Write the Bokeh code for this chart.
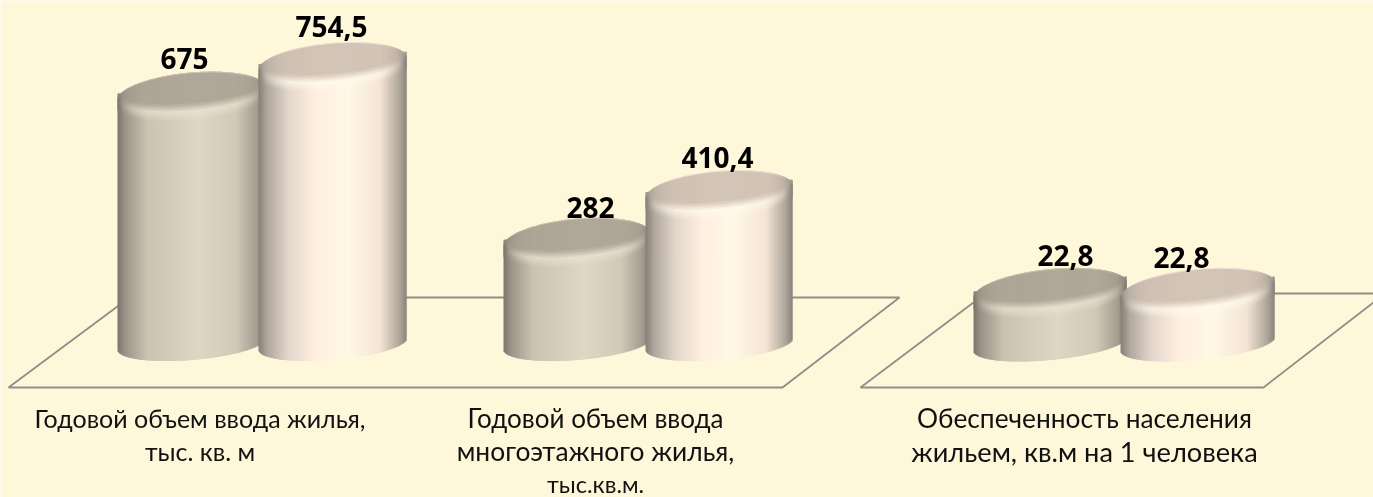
from bokeh.plotting import figure
from bokeh.models import Range1d, ColumnDataSource
from bokeh.core.properties import value
from bokeh.embed import file_html
from bokeh.resources import INLINE
import math

W, H = 1373, 497
BG = "#FFF7D9"
FONT = "Lato"
VALUE_FONT = "Open Sans"

categories = ["Годовой объем ввода жилья,\nтыс. кв. м",
              "Годовой объем ввода\nмногоэтажного жилья,\nтыс.кв.м.",
              "Обеспеченность населения\nжильем, кв.м на 1 человека"]
series_a = [675, 282, 22.8]
series_b = [754.5, 410.4, 22.8]
labels_a = ["675", "282", "22,8"]
labels_b = ["754,5", "410,4", "22,8"]

# layout (pixels)
BASE_PX = 345.0
SCALE_MAIN = 0.372
SCALE_THIRD = 2.39
bar_left = [[117, 258], [503, 645], [973, 1120]]
bar_width = [[148, 148], [147, 147], [153, 154]]
label_xy_a = [(184, 58), (590, 207), (1065, 255)]
label_xy_b = [(331, 26), (717, 157), (1181, 257)]
cat_x = [199.5, 595, 1084]
cat_sizes = [["25px", "25px"], ["26px", "26.4px", "23.5px"], ["26.3px", "27.2px"]]
cat_y0 = 417.5
cat_step = 33.2

def yrange(k):
    return Range1d(-(H - BASE_PX) / k, BASE_PX / k)

p = figure(width=W, height=H, x_range=Range1d(0, W), y_range=yrange(SCALE_MAIN),
           output_backend="svg", toolbar_location=None, min_border=0,
           background_fill_color=BG, border_fill_color=BG, outline_line_color=None)
p.extra_y_ranges = {"third": yrange(SCALE_THIRD), "px": Range1d(H, 0)}
p.axis.visible = False
p.grid.visible = False
p.styles = {"position": "fixed", "left": "0", "top": "0"}

# floors
FLOOR = "#8F8F8A"
floors = [([8, 782, 899, 129, 8], [387, 387, 297, 297, 387]),
          ([860, 1263, 1373], [387, 387, 302]),
          ([860, 973], [387, 302]),
          ([1270, 1373], [293, 293])]
for fx, fy in floors:
    p.line(fx, fy, y_range_name="px", line_color=FLOOR, line_width=1.8, level="underlay")

def lerp(c1, c2, t):
    return tuple(a + (b - a) * t for a, b in zip(c1, c2))

def hexc(c):
    return "#%02X%02X%02X" % tuple(int(round(max(0, min(255, v)))) for v in c)

def ramp(stops, t):
    for (t0, c0), (t1, c1) in zip(stops, stops[1:]):
        if t <= t1:
            return lerp(c0, c1, (t - t0) / (t1 - t0) if t1 > t0 else 0)
    return stops[-1][1]

BODY_A = [(0, (122, 116, 106)), (.05, (154, 147, 136)), (.20, (204, 194, 176)), (.55, (224, 214, 197)),
          (.80, (210, 200, 182)), (.94, (165, 157, 145)), (1, (130, 124, 114))]
BODY_B = [(0, (134, 127, 119)), (.06, (176, 167, 157)), (.20, (226, 214, 202)), (.38, (255, 238, 224)),
          (.60, (255, 248, 230)), (.82, (244, 228, 212)), (.95, (176, 167, 156)), (1, (140, 132, 124))]
FACE_A = (157, 150, 135)
FACE_B = (194, 178, 163)
HI_A = (234, 226, 210)
HI_B = (255, 250, 238)
RIM_A = (190, 182, 168)
RIM_B = (224, 212, 200)

S = 6.0      # tilt of the ellipses, px
HH_TOP = 22.0
HH_BOTTOM = 16.0

def draw_bar(left, width, val, k, yname, body, face, hi, rim):
    cx = left + width / 2
    hw = width / 2
    cy = BASE_PX - val * k
    cyb = BASE_PX - 1.5
    s = S * (1.2 if yname else 1)
    rows = dict(l=[], r=[], t=[], b=[], c=[])
    def add(x, ytop, ybot, col):
        rows["l"].append(x)
        rows["r"].append(x + (2 if x < left + width - 1 else 1))
        rows["t"].append((BASE_PX - ytop) / k)
        rows["b"].append((BASE_PX - ybot) / k)
        rows["c"].append(col)
    for x in range(left, left + width):
        t = (x + .5 - cx) / hw
        root = math.sqrt(max(0, 1 - t * t))
        base = ramp(body, (t + 1) / 2)
        edge = abs(t) ** 5
        sil = cy - s * t - HH_TOP * root
        low = cyb - s * t + HH_BOTTOM * root
        add(x, sil, low, hexc(base))
        # bevel, painted from the body upward to the face
        band = cy + 7 - s * t + 20 * root
        tf = t * 1.04
        rf = math.sqrt(max(0, 1 - tf * tf))
        face_low = cy - 7 - s * tf + 16 * rf
        face_top = cy - 7 - s * tf - 15 * rf
        bright = lerp(hi, base, min(1, edge + .12 * abs(t)))
        hi_y = face_low + (band - face_low) * 0.38
        n = 10
        for i in range(n):
            f = i / n
            y = band - (band - hi_y) * f
            add(x, y, band + 1 if i == 0 else y + 1.2, hexc(lerp(base, bright, f * f * (3 - 2 * f))))
        add(x, hi_y, hi_y + 1.2, hexc(bright))
        rc = lerp(rim, base, .25 + .75 * edge)
        m = 5
        fc = lerp(lerp(face, rim, .35), base, edge * .7)
        for i in range(m):
            f = (i + 1) / m
            y = hi_y - (hi_y - face_low) * f
            add(x, y, y + 1.5, hexc(lerp(bright, fc, f)))
        add(x, sil, max(face_low, sil), hexc(rc))
        if rf > 0:
            add(x, max(face_top, sil + 1), face_low, hexc(lerp(face, base, edge * .6)))
    kw = {"y_range_name": yname} if yname else {}
    p.quad(left="l", right="r", top="t", bottom="b", fill_color="c", fill_alpha=1.0, line_color=None,
           source=ColumnDataSource(rows), **kw)

for g in range(3):
    k = SCALE_THIRD if g == 2 else SCALE_MAIN
    yn = "third" if g == 2 else None
    draw_bar(bar_left[g][0], bar_width[g][0], series_a[g], k, yn, BODY_A, FACE_A, HI_A, RIM_A)
    draw_bar(bar_left[g][1], bar_width[g][1], series_b[g], k, yn, BODY_B, FACE_B, HI_B, RIM_B)

# value labels
vx = [q[0] for q in label_xy_a + label_xy_b]
vy = [q[1] for q in label_xy_a + label_xy_b]
p.text(vx, vy, text=labels_a + labels_b, y_range_name="px", text_font=value(VALUE_FONT),
       text_font_style="bold", text_font_size="28px", text_color="#000000",
       text_align="center", text_baseline="middle")

# category labels
for x0, cat, sizes in zip(cat_x, categories, cat_sizes):
    for i, (line, size) in enumerate(zip(cat.split("\n"), sizes)):
        p.text([x0], [cat_y0 + i * cat_step], text=[line], y_range_name="px", text_font=value(FONT),
               text_font_size=size, text_color="#111111", text_align="center", text_baseline="middle")

open("out.html", "w").write(file_html(p, INLINE))
